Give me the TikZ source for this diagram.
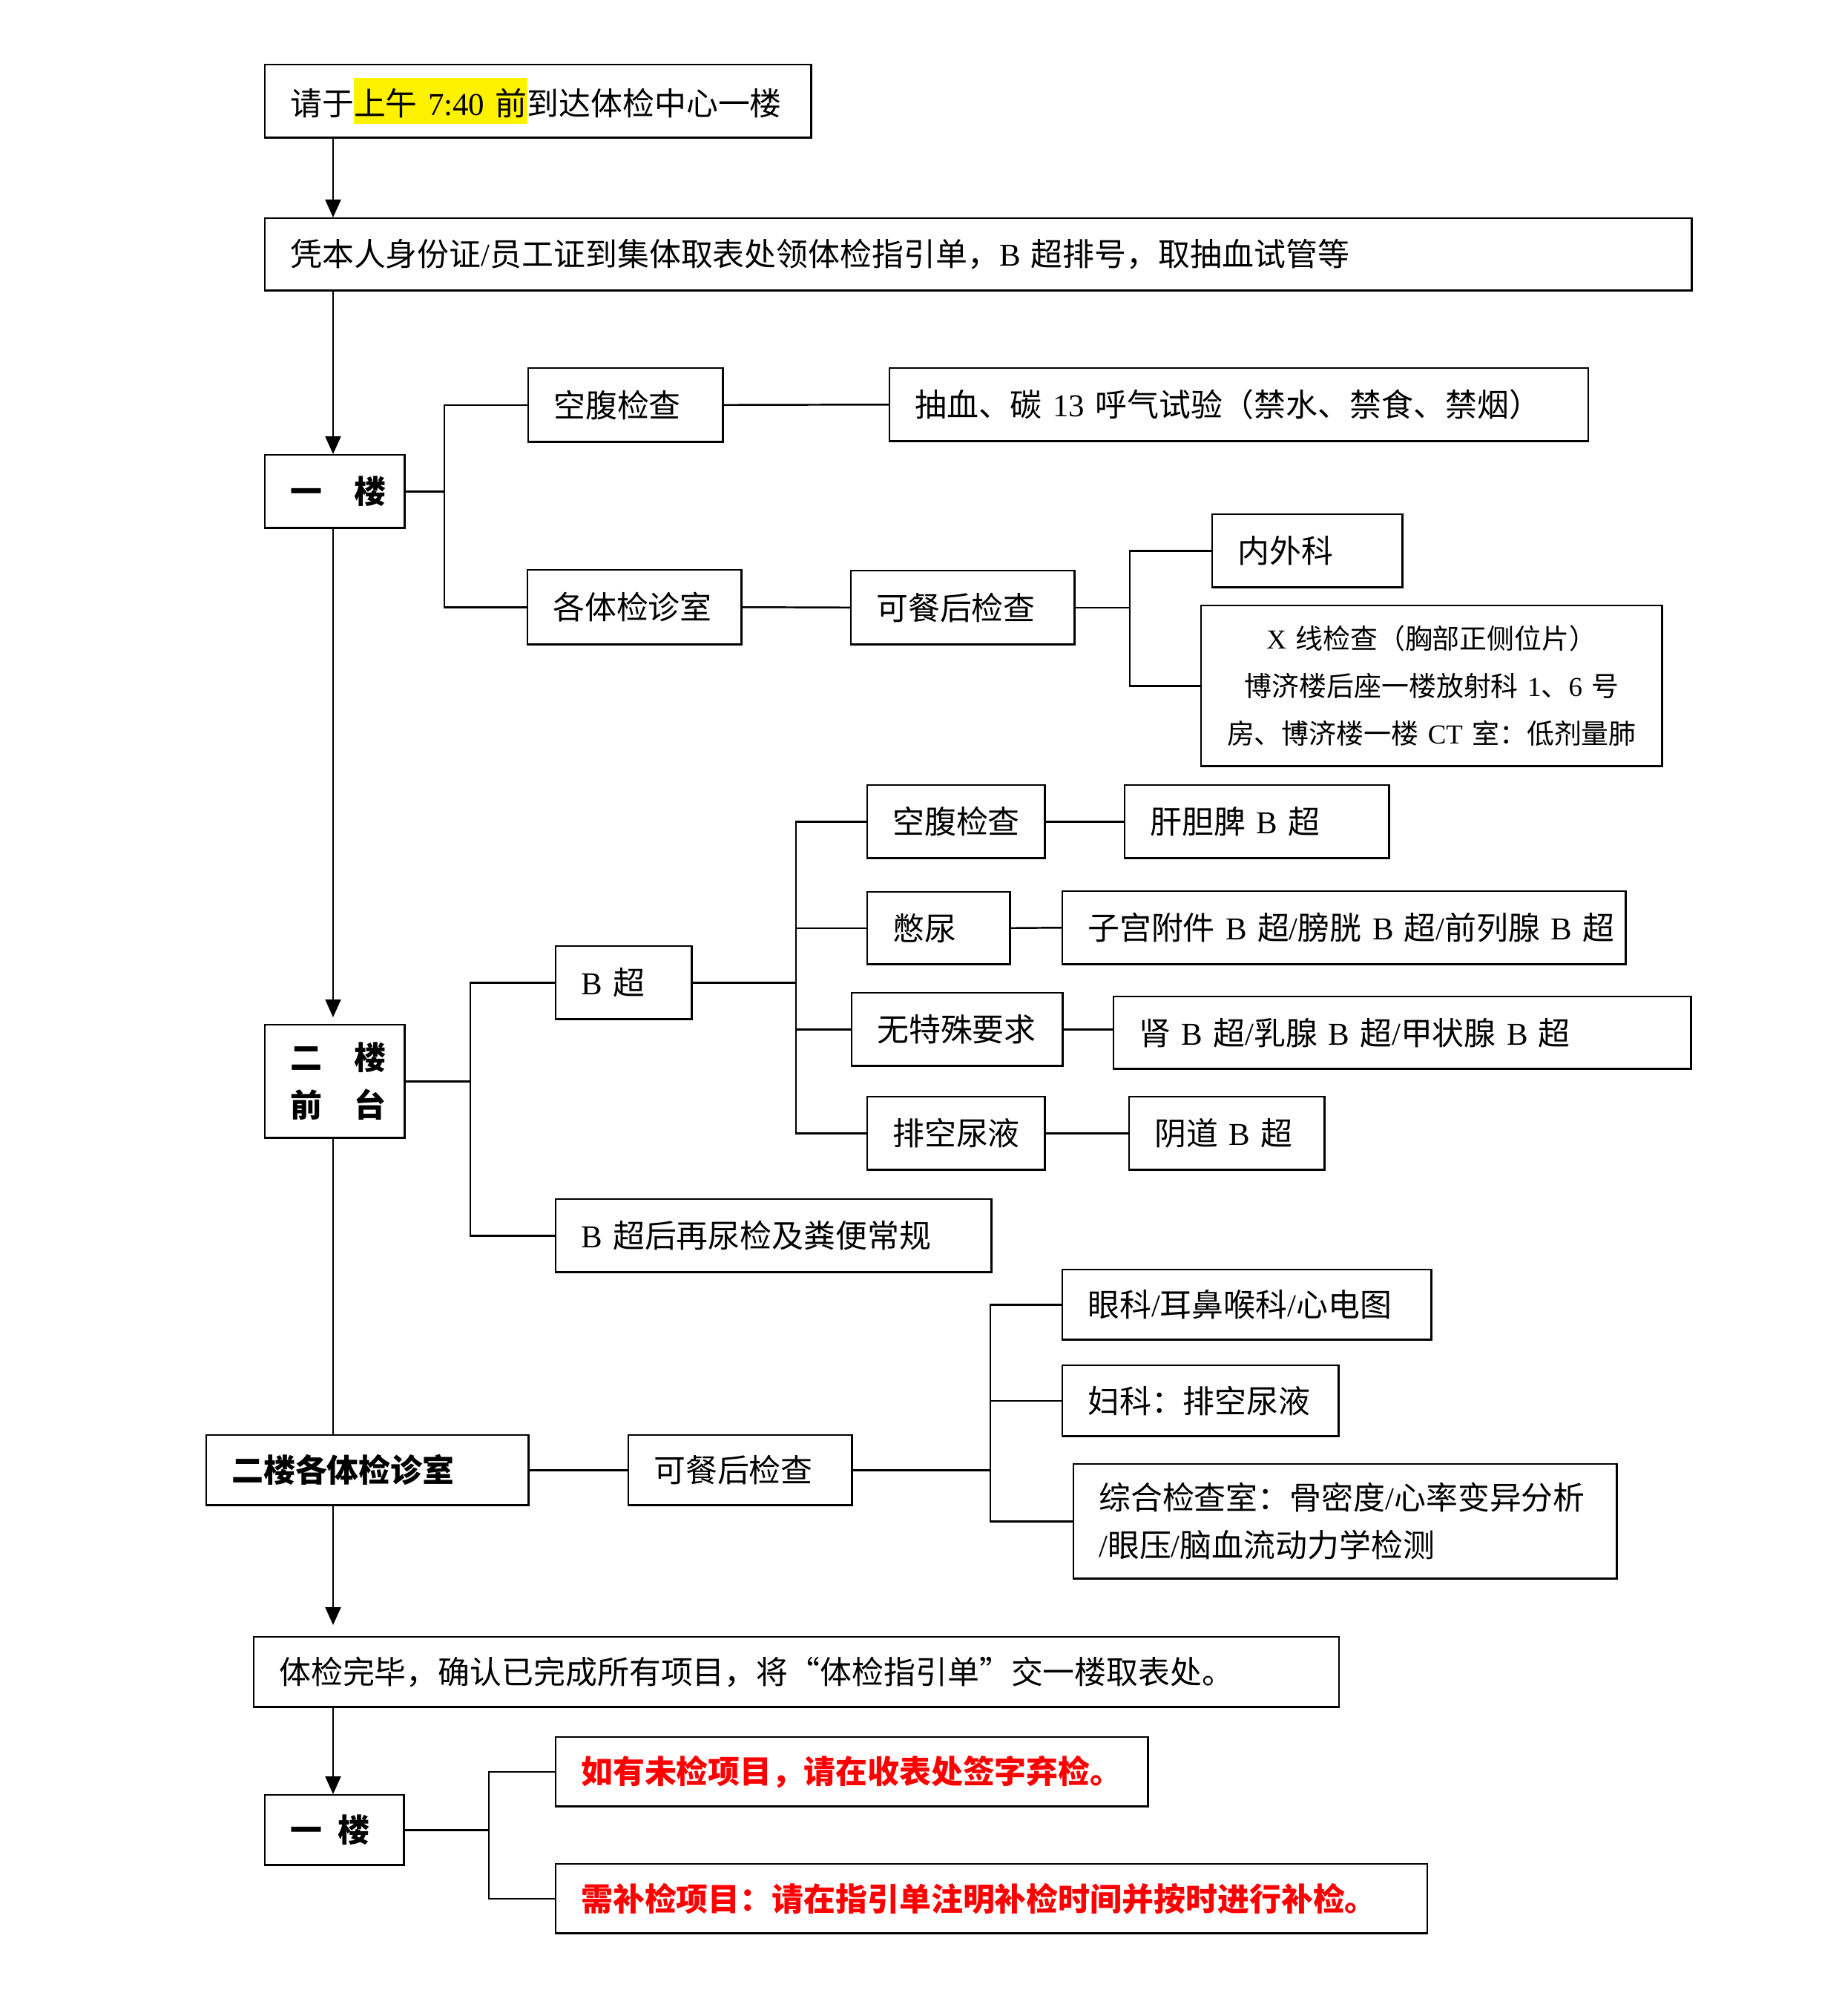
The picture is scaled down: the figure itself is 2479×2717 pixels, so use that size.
\documentclass[tikz,border=0pt]{standalone}
\usepackage{fontspec}
\setmainfont{Noto Sans CJK SC}
\newfontfamily\latin{Liberation Serif}
\usepackage{tikz}
\usetikzlibrary{arrows.meta}

\newcommand{\lt}[1]{{\latin #1}}
\newcommand{\bb}{{\latin\ B\ }}
\newcommand{\sla}{{\latin /}}
\newcommand{\hl}[1]{{\setlength{\fboxsep}{0pt}\colorbox{yellow}{\rule[-0.12cm]{0pt}{0.62cm}#1}}}
\newcommand{\boxfont}{\fontsize{12.2pt}{18.2pt}\selectfont}
\newcommand{\smallfont}{\fontsize{10.5pt}{18.2pt}\selectfont}

\begin{document}
\begin{tikzpicture}[x=0.01cm, y=-0.01cm, >={Triangle[length=0.24cm,width=0.21cm]}]
\tikzset{box/.style={draw, line width=0.7pt, anchor=north west, inner xsep=0.34cm, inner ysep=0pt, align=left, font=\boxfont}}
\tikzset{boldbox/.style={box, font=\boxfont\bfseries}}
\tikzset{redbox/.style={box, text=red, font=\boxfont\bfseries}}
\tikzset{link/.style={line width=0.7pt}}
\tikzset{flow/.style={line width=0.6pt, ->}}

\useasboundingbox (0,0) rectangle (2479,2717);

% main column
\node[box, text width=6.68cm, minimum height=0.98cm] (arrive) at (356,86) {请于\hl{上午\lt{\ 7:40\ }前}到达体检中心一楼};
\node[box, text width=18.54cm, minimum height=0.97cm] (ticket) at (356,293) {凭本人身份证\sla 员工证到集体取表处领体检指引单，\lt{B\ }超排号，取抽血试管等};
\node[boldbox, text width=1.20cm, minimum height=0.98cm] (floorA) at (356,612) {一\kern1em 楼};
\node[boldbox, text width=1.20cm, minimum height=1.52cm] (floorB) at (356,1380) {二\kern1em 楼\\前\kern1em 台};
\node[boldbox, text width=3.66cm, minimum height=0.94cm] (roomsB) at (277,1933) {二楼各体检诊室};
\node[box, text width=13.94cm, minimum height=0.94cm] (done) at (341,2205) {体检完毕，确认已完成所有项目，将“体检指引单”交一楼取表处。};
\node[boldbox, text width=1.19cm, minimum height=0.94cm] (floorC) at (356,2418) {一\kern0.5em 楼};

% first floor
\node[box, text width=1.94cm, minimum height=0.99cm] (fastA) at (711,495) {空腹检查};
\node[box, text width=8.73cm, minimum height=0.98cm] (blood) at (1198,495) {抽血、碳\lt{\ 13\ }呼气试验（禁水、禁食、禁烟）};
\node[box, text width=2.20cm, minimum height=1.00cm] (roomsA) at (710,767) {各体检诊室};
\node[box, text width=2.33cm, minimum height=0.99cm] (mealA) at (1146,768) {可餐后检查};
\node[box, text width=1.88cm, minimum height=0.98cm] (surgery) at (1633,692) {内外科};
\node[box, text width=5.53cm, minimum height=2.16cm, align=center, font=\smallfont] (xray) at (1618,815) {\lt{X\ }线检查（胸部正侧位片）\\博济楼后座一楼放射科\lt{\ 1}、\lt{6\ }号\\房、博济楼一楼\lt{\ CT\ }室：低剂量肺};

% second floor, ultrasound
\node[box, text width=1.15cm, minimum height=0.98cm] (bscan) at (748,1274) {\lt{B\ }超};
\node[box, text width=1.71cm, minimum height=0.98cm] (fastB) at (1168,1057) {空腹检查};
\node[box, text width=2.88cm, minimum height=0.98cm] (liver) at (1515,1057) {肝胆脾\bb 超};
\node[box, text width=1.24cm, minimum height=0.97cm] (bladder) at (1168,1201) {憋尿};
\node[box, text width=6.91cm, minimum height=0.98cm] (uterus) at (1431,1200) {\mbox{子宫附件\bb 超\sla 膀胱\bb 超\sla 前列腺\bb 超}};
\node[box, text width=2.16cm, minimum height=0.98cm] (plain) at (1147,1337) {无特殊要求};
\node[box, text width=7.10cm, minimum height=0.97cm] (kidney) at (1500,1342) {\mbox{肾\bb 超\sla 乳腺\bb 超\sla 甲状腺\bb 超}};
\node[box, text width=1.71cm, minimum height=0.98cm] (emptyB) at (1168,1477) {排空尿液};
\node[box, text width=1.95cm, minimum height=0.98cm] (vagina) at (1521,1477) {阴道\bb 超};
\node[box, text width=5.19cm, minimum height=0.98cm] (routine) at (748,1615) {\lt{B\ }超后再尿检及粪便常规};

% second floor, rooms
\node[box, text width=2.33cm, minimum height=0.94cm] (mealB) at (846,1933) {可餐后检查};
\node[box, text width=4.29cm, minimum height=0.94cm] (eye) at (1431,1710) {眼科\sla 耳鼻喉科\sla 心电图};
\node[box, text width=3.04cm, minimum height=0.95cm] (gyn) at (1431,1839) {妇科：排空尿液};
\node[box, text width=6.64cm, minimum height=1.54cm] (combo) at (1446,1972) {综合检查室：骨密度\sla 心率变异分析\\\sla 眼压\sla 脑血流动力学检测};

% back to first floor
\node[redbox, text width=7.30cm, minimum height=0.93cm] (missed) at (748,2340) {如有未检项目，请在收表处签字弃检。};
\node[redbox, text width=11.06cm, minimum height=0.93cm] (makeup) at (748,2511) {需补检项目：请在指引单注明补检时间并按时进行补检。};

\coordinate (spine) at (449,0);
\coordinate (jA) at (599,0);
\coordinate (jB) at (634,0);
\coordinate (jC) at (1073,0);
\coordinate (jD) at (1523,0);
\coordinate (jE) at (1335,0);
\coordinate (jF) at (659,0);

\draw[flow] (spine |- arrive.south) -- (spine |- ticket.north);
\draw[flow] (spine |- ticket.south) -- (spine |- floorA.north);
\draw[flow, shorten >=0.09cm] (spine |- floorA.south) -- (spine |- floorB.north);
\draw[line width=0.6pt] (spine |- floorB.south) -- (spine |- roomsB.north);
\draw[flow, shorten >=0.15cm] (spine |- roomsB.south) -- (spine |- done.north);
\draw[flow] (spine |- done.south) -- (spine |- floorC.north);

\draw[link] (floorA.east) -- (jA |- floorA.east);
\draw[link] (fastA.west) -| (jA |- roomsA.west) -- (roomsA.west);
\draw[link] (fastA.east) -- (blood.west);
\draw[link] (roomsA.east) -- (mealA.west);
\draw[link] (mealA.east) -- (jD |- mealA.east);
\draw[link] (surgery.west) -| (jD |- xray.west) -- (xray.west);

\draw[link] (floorB.east) -- (jB |- floorB.east);
\draw[link] (bscan.west) -| (jB |- routine.west) -- (routine.west);
\draw[link] (bscan.east) -- (jC |- bscan.east);
\draw[link] (fastB.west) -| (jC |- emptyB.west) -- (emptyB.west);
\draw[link] (jC |- bladder.west) -- (bladder.west);
\draw[link] (jC |- plain.west) -- (plain.west);
\draw[link] (fastB.east) -- (liver.west);
\draw[link] (bladder.east) -- (uterus.west);
\draw[link] (plain.east) -- (plain.east -| kidney.west);
\draw[link] (emptyB.east) -- (vagina.west);

\draw[link] (roomsB.east) -- (mealB.west);
\draw[link] (mealB.east) -- (jE |- mealB.east);
\draw[link] (eye.west) -| (jE |- combo.west) -- (combo.west);
\draw[link] (jE |- gyn.west) -- (gyn.west);

\draw[link] (floorC.east) -- (jF |- floorC.east);
\draw[link] (missed.west) -| (jF |- makeup.west) -- (makeup.west);
\end{tikzpicture}
\end{document}
